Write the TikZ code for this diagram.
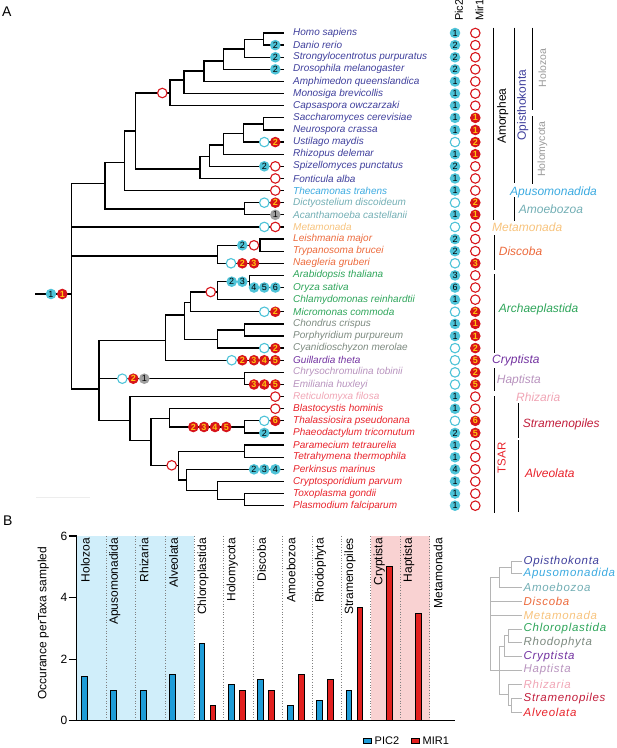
\documentclass[tikz,border=0pt]{standalone}
\usepackage{fontspec}
\setmainfont{Liberation Sans}
\definecolor{cyanF}{HTML}{4EC3D8}
\definecolor{redF}{HTML}{D7141A}
\definecolor{numY}{HTML}{FFC20E}
\definecolor{grayF}{HTML}{A0A0A0}
\definecolor{cOpi}{HTML}{3F3F9C}
\definecolor{cApu}{HTML}{3BAAE0}
\definecolor{cAmo}{HTML}{72AEB4}
\definecolor{cMet}{HTML}{F7C37D}
\definecolor{cDis}{HTML}{EC6A3C}
\definecolor{cArc}{HTML}{2EA55A}
\definecolor{cRho}{HTML}{7D8A80}
\definecolor{cCry}{HTML}{7232A0}
\definecolor{cHap}{HTML}{B893BE}
\definecolor{cRhi}{HTML}{F0A5B5}
\definecolor{cStr}{HTML}{C21E3C}
\definecolor{cAlv}{HTML}{E8232B}
\definecolor{cHol}{HTML}{9A9A9A}
\definecolor{barB}{HTML}{1E9CD8}
\definecolor{barR}{HTML}{E2201F}
\definecolor{shB}{HTML}{D0EEFA}
\definecolor{shR}{HTML}{F9D2D2}
\definecolor{sTree}{HTML}{B5B5B5}
\newcounter{mkc}
\newcommand\mk[3]{\stepcounter{mkc}\node[#1] (mk\arabic{mkc}) at (#2) {#3};}
\begin{document}
\begin{tikzpicture}[x=1pt,y=-1pt,
  tree/.style={line width=1.3pt,line cap=rect,line join=miter},
  brk/.style={line width=1.2pt},
  dig/.style={circle,inner sep=0pt,font=\fontsize{9}{9}\selectfont},
  bf/.style={dig,fill=cyanF,minimum size=10.6pt,text=black},
  bo/.style={dig,draw=cyanF,line width=1.1pt,fill=white,minimum size=9.5pt},
  rf/.style={dig,fill=redF,minimum size=10.6pt,text=numY,font=\fontsize{9}{9}\selectfont\bfseries},
  ro/.style={dig,draw=redF,line width=1.1pt,fill=white,minimum size=9.5pt},
  gf/.style={dig,fill=grayF,minimum size=10.6pt,text=black},
  taxon/.style={anchor=west,inner sep=0pt,font=\fontsize{10}{12}\selectfont\itshape},
  grp/.style={anchor=west,inner sep=0pt,font=\fontsize{12}{14}\selectfont\itshape},
  vgrp/.style={rotate=90,inner sep=0pt,font=\fontsize{12}{14}\selectfont},
  catl/.style={rotate=90,anchor=east,inner sep=0pt,font=\fontsize{12}{14}\selectfont},
  leg/.style={anchor=west,inner sep=0pt,font=\fontsize{11.5}{14}\selectfont\itshape\addfontfeatures{LetterSpace=6}},
  bar/.style={line width=0.8pt,draw=black}
]
\useasboundingbox (0,0) rectangle (617,748);

% ---------- panel labels
\node[anchor=west,inner sep=0pt,font=\fontsize{14}{16}\selectfont] (labA) at (2,12) {A};
\node[anchor=west,inner sep=0pt,font=\fontsize{14}{16}\selectfont] (labB) at (3,521) {B};

% ---------- leaves
\foreach \i in {1,...,40}{\coordinate (L\i) at (283,{33+12.12*(\i-1)});}

% ---------- internal nodes
\coordinate (a1) at (263.3,39.2);
\coordinate (a2) at (244.3,49);
\coordinate (a3) at (223.3,61);
\coordinate (a4) at (204,71);
\coordinate (a5) at (184,80);
\coordinate (a6) at (170,93);
\coordinate (f1) at (263.3,124);
\coordinate (f2) at (243.3,133.3);
\coordinate (f3) at (223.3,145);
\coordinate (f4) at (209.3,156.7);
\coordinate (f5) at (200,169);
\coordinate (op) at (135.7,131);
\coordinate (ap) at (124.3,162.7);
\coordinate (am1) at (244.3,208.9);
\coordinate (amo) at (105,183.3);
\coordinate (root) at (71.7,294);
\coordinate (stem) at (36,294);
\coordinate (d1) at (260,245.3);
\coordinate (d2) at (217.3,256);
\coordinate (p1) at (249.3,281.7);
\coordinate (p2) at (217.3,292);
\coordinate (p3) at (190.7,302.3);
\coordinate (r1) at (244.3,330);
\coordinate (r2) at (217.3,339.3);
\coordinate (pr) at (184.3,315);
\coordinate (ac) at (165.7,340.7);
\coordinate (lower) at (99,389);
\coordinate (h1) at (244.3,378.7);
\coordinate (ts) at (130,420.7);
\coordinate (sa) at (151,440.7);
\coordinate (s2) at (169.3,418.3);
\coordinate (s1) at (244.3,427);
\coordinate (al5) at (178.3,465.3);
\coordinate (al1) at (244.3,451.3);
\coordinate (al4) at (186.7,480);
\coordinate (al3) at (217.3,490.6);
\coordinate (al2) at (244.3,499.7);

% ---------- tree edges
\draw[tree] (a1)|-(L1) (a1)|-(L2) (a2)|-(a1) (a2)|-(L3) (a3)|-(a2) (a3)|-(L4)
 (a4)|-(a3) (a4)|-(L5) (a5)|-(a4) (a5)|-(L6) (a6)|-(a5) (a6)|-(L7)
 (f1)|-(L8) (f1)|-(L9) (f2)|-(f1) (f2)|-(L10) (f3)|-(f2) (f3)|-(L11)
 (f4)|-(f3) (f4)|-(L12) (f5)|-(f4) (f5)|-(L13) (op)|-(a6) (op)|-(f5)
 (ap)|-(op) (ap)|-(L14) (am1)|-(L15) (am1)|-(L16) (amo)|-(ap) (amo)|-(am1)
 (root)|-(amo) (root)|-(L17) (root)|-(d2) (root)|-(lower) (stem)--(root)
 (d1)|-(L18) (d1)|-(L19) (d2)|-(d1) (d2)|-(L20)
 (p1)|-(L21) (p1)|-(L22) (p2)|-(p1) (p2)|-(L23) (p3)|-(p2) (p3)|-(L24)
 (r1)|-(L25) (r1)|-(L26) (r2)|-(r1) (r2)|-(L27) (pr)|-(p3) (pr)|-(r2)
 (ac)|-(pr) (ac)|-(L28) (lower)|-(ac) (lower)|-(h1) (h1)|-(L29) (h1)|-(L30)
 (lower)|-(ts) (ts)|-(L31) (ts)|-(sa) (sa)|-(s2) (sa)|-(al5)
 (s2)|-(L32) (s2)|-(s1) (s1)|-(L33) (s1)|-(L34)
 (al5)|-(al1) (al5)|-(al4) (al1)|-(L35) (al1)|-(L36)
 (al4)|-(L37) (al4)|-(al3) (al3)|-(L38) (al3)|-(al2) (al2)|-(L39) (al2)|-(L40);

\draw[line width=1pt,color=black!7] (36,497.7) -- (90,497.7);

% ---------- events on branches
\mk{bf}{51,294}{1}\mk{rf}{62.3,294}{1}
\mk{ro}{162.3,93}{}
\mk{bf}{275.3,0 |- L2}{2}\mk{bf}{275.3,0 |- L3}{2}\mk{bf}{275.3,0 |- L4}{2}
\mk{bo}{264.3,0 |- L10}{}\mk{rf}{275.3,0 |- L10}{2}
\mk{bf}{264.3,0 |- L12}{2}\mk{ro}{275.3,0 |- L12}{}
\mk{ro}{275.3,0 |- L13}{}\mk{ro}{275.3,0 |- L14}{}
\mk{bo}{264.3,0 |- L15}{}\mk{rf}{275.3,0 |- L15}{2}
\mk{gf}{275.3,0 |- L16}{1}
\mk{bo}{264.3,0 |- L17}{}\mk{ro}{275.3,0 |- L17}{}
\mk{bf}{242.3,0 |- d1}{2}\mk{ro}{254,0 |- d1}{}
\mk{bo}{231,0 |- L20}{}\mk{rf}{242.3,0 |- L20}{2}\mk{rf}{254,0 |- L20}{3}
\mk{bf}{231.7,0 |- p1}{2}\mk{bf}{242.3,0 |- p1}{3}
\mk{bf}{254,0 |- L22}{4}\mk{bf}{264.3,0 |- L22}{5}\mk{bf}{275.3,0 |- L22}{6}
\mk{ro}{210.7,0 |- p2}{}
\mk{bo}{264.3,0 |- L24}{}\mk{rf}{275.3,0 |- L24}{2}
\mk{bo}{264.3,0 |- L27}{}\mk{rf}{275.3,0 |- L27}{2}
\mk{bo}{231.7,0 |- L28}{}\mk{rf}{242.3,0 |- L28}{2}\mk{rf}{254,0 |- L28}{3}\mk{rf}{264.3,0 |- L28}{4}\mk{rf}{275.3,0 |- L28}{5}
\mk{bo}{122.3,0 |- h1}{}\mk{rf}{133.3,0 |- h1}{2}\mk{gf}{144.3,0 |- h1}{1}
\mk{rf}{254,0 |- L30}{3}\mk{rf}{264.3,0 |- L30}{4}\mk{rf}{275.3,0 |- L30}{5}
\mk{ro}{275.3,0 |- L31}{}\mk{ro}{275.3,0 |- L32}{}
\mk{rf}{193.3,0 |- s1}{2}\mk{rf}{204,0 |- s1}{3}\mk{rf}{215,0 |- s1}{4}\mk{rf}{226.3,0 |- s1}{5}
\mk{bo}{264.3,0 |- L33}{}\mk{rf}{275.3,0 |- L33}{6}
\mk{bf}{264.3,0 |- L34}{2}
\mk{ro}{171.7,0 |- al5}{}
\mk{bf}{254,0 |- L37}{2}\mk{bf}{264.3,0 |- L37}{3}\mk{bf}{275.3,0 |- L37}{4}

% ---------- taxa names
\foreach \i/\t/\c in {1/Homo sapiens/cOpi,2/Danio rerio/cOpi,3/Strongylocentrotus purpuratus/cOpi,
 4/Drosophila melanogaster/cOpi,5/Amphimedon queenslandica/cOpi,6/Monosiga brevicollis/cOpi,
 7/Capsaspora owczarzaki/cOpi,8/Saccharomyces cerevisiae/cOpi,9/Neurospora crassa/cOpi,
 10/Ustilago maydis/cOpi,11/Rhizopus delemar/cOpi,12/Spizellomyces punctatus/cOpi,
 13/Fonticula alba/cOpi,14/Thecamonas trahens/cApu,15/Dictyostelium discoideum/cAmo,
 16/Acanthamoeba castellanii/cAmo,17/Metamonada/cMet,18/Leishmania major/cDis,
 19/Trypanosoma brucei/cDis,20/Naegleria gruberi/cDis,21/Arabidopsis thaliana/cArc,
 22/Oryza sativa/cArc,23/Chlamydomonas reinhardtii/cArc,24/Micromonas commoda/cArc,
 25/Chondrus crispus/cRho,26/Porphyridium purpureum/cRho,27/Cyanidioschyzon merolae/cRho,
 28/Guillardia theta/cCry,29/Chrysochromulina tobinii/cHap,30/Emiliania huxleyi/cHap,
 31/Reticulomyxa filosa/cRhi,32/Blastocystis hominis/cAlv,33/Thalassiosira pseudonana/cAlv,
 34/Phaeodactylum tricornutum/cAlv,35/Paramecium tetraurelia/cAlv,36/Tetrahymena thermophila/cAlv,
 37/Perkinsus marinus/cAlv,38/Cryptosporidium parvum/cAlv,39/Toxoplasma gondii/cAlv,
 40/Plasmodium falciparum/cAlv}
 {\node[taxon,text=\c] (T\i) at (293,{33+12.12*(\i-1)}) {\t};}

% ---------- Pic2 / Mir1 columns
\node[rotate=90,anchor=west,inner sep=0pt,font=\fontsize{11}{12}\selectfont] (hP) at (459,21) {Pic2};
\node[rotate=90,anchor=west,inner sep=0pt,font=\fontsize{11}{12}\selectfont] (hM) at (479.3,21) {Mir1};
\foreach \v [count=\i] in {1,2,2,2,1,1,1,1,1,o,1,2,1,1,o,1,o,2,2,o,3,6,1,o,1,1,o,o,o,o,1,1,o,2,1,1,4,1,1,1}
 {\if\v o\node[bo] (P\i) at (455,{33+12.12*(\i-1)}) {};\else\node[bf] (P\i) at (455,{33+12.12*(\i-1)}) {\v};\fi}
\foreach \v [count=\i] in {o,o,o,o,o,o,o,1,1,2,1,o,o,o,2,1,o,o,o,3,o,o,o,2,1,1,2,5,2,5,o,o,6,5,o,o,o,o,o,o}
 {\if\v o\node[ro] (M\i) at (475.3,{33+12.12*(\i-1)}) {};\else\node[rf] (M\i) at (475.3,{33+12.12*(\i-1)}) {\v};\fi}

% ---------- group brackets
\draw[brk] (493.7,27.7) -- (493.7,220);
\draw[brk] (514.7,27.7) -- (514.7,183);
\draw[brk] (532.7,27.7) -- (532.7,110);
\draw[brk] (532.7,116) -- (532.7,184);
\draw[brk] (514.7,197) -- (514.7,220.7);
\draw[brk] (494.3,235) -- (494.3,270);
\draw[brk] (494.3,274) -- (494.3,352.7);
\draw[brk] (494.3,368.3) -- (494.3,390.7);
\draw[brk] (494.3,396) -- (494.3,512.7);
\draw[brk] (518.3,403) -- (518.3,437.7);
\draw[brk] (518.3,440) -- (518.3,511.7);

\node[vgrp] (gAmor) at (502.7,116) {Amorphea};
\node[vgrp,text=cOpi] (gOpi) at (522.7,105) {Opisthokonta};
\node[vgrp,text=cHol,font=\fontsize{10.5}{12}\selectfont] (gHolz) at (542.3,68) {Holozoa};
\node[vgrp,text=cHol,font=\fontsize{10.5}{12}\selectfont] (gHolm) at (542.3,149) {Holomycota};
\node[vgrp,text=cAlv,font=\fontsize{11.5}{12}\selectfont] (gTSAR) at (501.7,458) {TSAR};
\node[grp,text=cApu] (gApu) at (510,192) {Apusomonadida};
\node[grp,text=cAmo] (gAmo) at (518.7,209) {Amoebozoa};
\node[grp,text=cMet] (gMet) at (492,227) {Metamonada};
\node[grp,text=cDis] (gDis) at (498.7,251) {Discoba};
\node[grp,text=cArc] (gArc) at (498.7,309) {Archaeplastida};
\node[grp,text=cCry] (gCry) at (492,360.7) {Cryptista};
\node[grp,text=cHap] (gHap) at (496.7,380) {Haptista};
\node[grp,text=cRhi] (gRhi) at (516,397.7) {Rhizaria};
\node[grp,text=cStr] (gStr) at (522.7,424.3) {Stramenopiles};
\node[grp,text=cAlv] (gAlv) at (525,473.3) {Alveolata};

% ---------- panel B: bar chart
\fill[shB] (76.7,536) rectangle (194.4,720.7);
\fill[shR] (370.8,536) rectangle (429.6,720.7);
\foreach \k in {1,...,12}{\draw[gray,dotted,line width=0.7pt] ({76.7+29.4*\k},536) -- ({76.7+29.4*\k},720.7);}
\foreach \k/\nm/\b/\r in {0/Holozoa/1.43/0,1/Apusomonadida/1/0,2/Rhizaria/1/0,3/Alveolata/1.5/0,
  4/Chloroplastida/2.5/0.5,5/Holomycota/1.167/1,6/Discoba/1.333/1,7/Amoebozoa/0.5/1.5,
  8/Rhodophyta/0.667/1.333,9/Stramenopiles/1/3.667,10/Cryptista/0/5,11/Haptista/0/3.5,12/Metamonada/0/0}{
  \pgfmathsetmacro\xo{76.7+29.4*\k}
  \node[catl] (cat\k) at ({\xo+8.6},538) {\nm};
  \ifdim\b pt>0pt \filldraw[bar,fill=barB] ({\xo+4.7},720.7) rectangle ({\xo+10.4},{720.7-30.8*\b});\fi
  \ifdim\r pt>0pt \filldraw[bar,fill=barR] ({\xo+15.7},720.7) rectangle ({\xo+21.4},{720.7-30.8*\r});\fi
}
\draw[line width=1.2pt] (76.7,536) -- (76.7,720.7) -- (455,720.7);
\foreach \v in {0,2,4,6}{
  \draw[line width=1.2pt] (68.5,{720.7-30.8*\v}) -- (76.7,{720.7-30.8*\v});
  \node[anchor=east,inner sep=0pt,font=\fontsize{12}{14}\selectfont] (yt\v) at (67.5,{720.7-30.8*\v}) {\v};
}
\node[rotate=90,inner sep=0pt,font=\fontsize{12}{14}\selectfont] (ylab) at (43.3,623.3) {Occurance perTaxa sampled};

% legend
\filldraw[line width=0.8pt,fill=barB] (363,738.5) rectangle (371.5,743.5);
\node[anchor=west,inner sep=0pt,font=\fontsize{11}{12}\selectfont] (lP) at (374.5,741) {PIC2};
\filldraw[line width=0.8pt,fill=barR] (411,738.5) rectangle (419.5,743.5);
\node[anchor=west,inner sep=0pt,font=\fontsize{11}{12}\selectfont] (lM) at (422.5,741) {MIR1};

% ---------- small legend tree
\foreach \n/\y in {op/561.7,apu/573.3,amo/587.7,dis/601.7,met/615.7,chl/629,rho/642.7,cry/656.7,hap/670,rhi/684,str/698.3,alv/712.3}
 {\coordinate (s\n) at (522.3,\y);}
\coordinate (t1) at (511.7,567.5);
\coordinate (t2) at (499.3,577.6);
\coordinate (t3) at (508.3,635.9);
\coordinate (t4) at (504,646.3);
\coordinate (t5) at (511.7,705.3);
\coordinate (t6) at (508.3,694.7);
\coordinate (t7) at (499.3,670);
\coordinate (tr) at (490.7,623.8);
\draw[sTree,line width=1pt] (t1)|-(sop) (t1)|-(sapu) (t2)|-(t1) (t2)|-(samo)
 (tr)|-(t2) (tr)|-(sdis) (tr)|-(smet) (tr)|-(t7)
 (t3)|-(schl) (t3)|-(srho) (t4)|-(t3) (t4)|-(scry) (t7)|-(t4) (t7)|-(shap)
 (t5)|-(sstr) (t5)|-(salv) (t6)|-(srhi) (t6)|-(t5) (t7)|-(t6);
\node[leg,text=cOpi] (nop) at (523.5,561.7) {Opisthokonta};
\node[leg,text=cApu] (napu) at (523.5,573.3) {Apusomonadida};
\node[leg,text=cAmo] (namo) at (523.5,587.7) {Amoebozoa};
\node[leg,text=cDis] (ndis) at (523.5,601.7) {Discoba};
\node[leg,text=cMet] (nmet) at (523.5,615.7) {Metamonada};
\node[leg,text=cArc] (nchl) at (523.5,629) {Chloroplastida};
\node[leg,text=cRho] (nrho) at (523.5,642.7) {Rhodophyta};
\node[leg,text=cCry] (ncry) at (523.5,656.7) {Cryptista};
\node[leg,text=cHap] (nhap) at (523.5,670) {Haptista};
\node[leg,text=cRhi] (nrhi) at (523.5,684) {Rhizaria};
\node[leg,text=cStr] (nstr) at (523.5,698.3) {Stramenopiles};
\node[leg,text=cAlv] (nalv) at (523.5,712.3) {Alveolata};
\end{tikzpicture}
\end{document}
